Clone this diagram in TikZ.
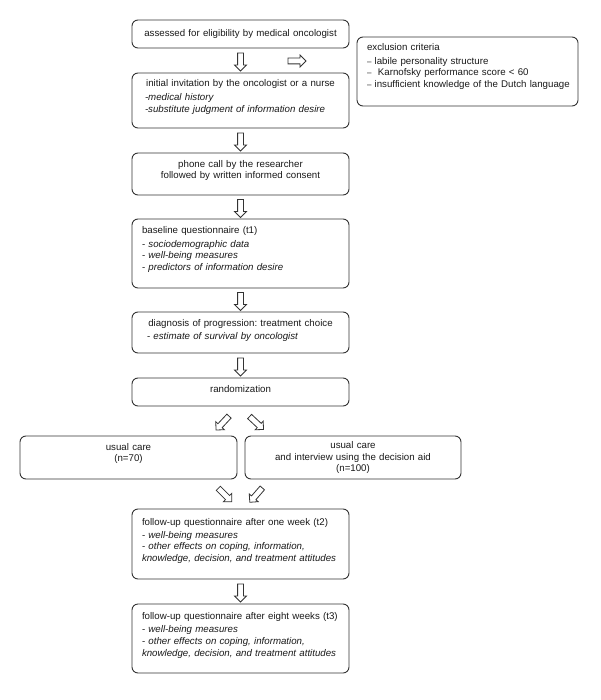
\documentclass[tikz,border=0pt]{standalone}
\usepackage{fontspec}
\setmainfont{Liberation Sans}
\usetikzlibrary{shapes.arrows,calc}
\definecolor{linec}{HTML}{333333}
\definecolor{textc}{HTML}{1A1A1A}
\newcommand\xdp[1]{\rule[-#1pt]{0pt}{#1pt}}
\frenchspacing
\begin{document}
\begin{tikzpicture}[x=1pt,y=-1pt,
  box/.style={draw=linec, line width=0.9pt, rounded corners=6pt, fill=white,
    inner xsep=10pt, inner ysep=0pt, align=left, text=textc,
    font=\fontsize{9.7}{11.8}\selectfont\frenchspacing},
  boxc/.style={box, align=center},
  barrow/.style={single arrow, draw=linec, line width=0.8pt, fill=white,
    inner sep=0pt, inner ysep=2.5pt, single arrow head extend=3pt,
    minimum height=18pt, minimum width=0pt}]
\useasboundingbox (0,0) rectangle (600,700);

% main column
\node[boxc, text width=197pt, minimum height=28pt] (b1) at (240.5,34)
  {assessed for eligibility by medical oncologist};
\node[box, text width=197pt, minimum height=55pt] (b2) at (240.5,100.5)
  {\makebox[\hsize][c]{initial invitation by the oncologist or a nurse}\\[2pt]
   \hspace*{3pt}\textit{-medical history}\\
   \mbox{\hspace*{3pt}\textit{-substitute judgment of information desire}}\xdp{9}};
\node[boxc, text width=197pt, minimum height=42pt] (b3) at (240.5,174)
  {phone call by the researcher\\ followed by written informed consent\xdp{9}};
\node[box, text width=197pt, minimum height=69pt] (b4) at (240.5,253.5)
  {baseline questionnaire (t1)\\[2pt]
   - \textit{sociodemographic data}\\
   - \textit{well-being measures}\\
   - \textit{predictors of information desire}\xdp{10}};
\node[box, text width=197pt, minimum height=41pt] (b5) at (240.5,332.5)
  {\makebox[\hsize][c]{diagnosis of progression: treatment choice}\\[1pt]
   \hspace*{5pt}- \textit{estimate of survival by oncologist}\xdp{6}};
\node[boxc, text width=197pt, minimum height=28pt] (b6) at (240.5,392)
  {randomization\xdp{6}};
\node[boxc, text width=197pt, minimum height=43pt] (bl) at (128.5,457.5)
  {usual care\\ (n=70)\xdp{10}};
\node[boxc, text width=196pt, minimum height=43pt] (br) at (353,457.5)
  {usual care\\ and interview using the decision aid\\ (n=100)};
\node[box, text width=197pt, minimum height=70pt] (b7) at (240.5,544)
  {\mbox{follow-up questionnaire after one week (t2)}\\[1pt]
   - \textit{well-being measures}\\
   - \textit{other effects on coping, information,}\\
   \mbox{\textit{knowledge, decision, and treatment attitudes}}\xdp{8}};
\node[box, text width=197pt, minimum height=69pt] (b8) at (240.5,638.5)
  {\mbox{follow-up questionnaire after eight weeks (t3)}\\[1pt]
   - \textit{well-being measures}\\
   - \textit{other effects on coping, information,}\\
   \mbox{\textit{knowledge, decision, and treatment attitudes}}\xdp{8}};

% exclusion criteria
\node[box, text width=201pt, minimum height=69pt] (ex) at (467.5,71.5)
  {exclusion criteria\\[2pt]
   {\footnotesize–} labile personality structure\\
   {\footnotesize–}\ \ Karnofsky performance score < 60\\
   \mbox{{\footnotesize–} insufficient knowledge of the Dutch language}\xdp{12}};

% block arrows
\node[barrow, rotate=-90] (a1) at ($(b1.south)!0.5!(b2.north)$) {};
\node[barrow] (ax) at (295.5,61) {};
\node[barrow, rotate=-90] (a2) at ($(b2.south)!0.5!(b3.north)$) {};
\node[barrow, rotate=-90] (a3) at ($(b3.south)!0.5!(b4.north)$) {};
\node[barrow, rotate=-90] (a4) at ($(b4.south)!0.5!(b5.north)$) {};
\node[barrow, rotate=-90] (a5) at ($(b5.south)!0.5!(b6.north)$) {};
\node[barrow, rotate=227, minimum height=19pt] (d1) at (223.5,422) {};
\node[barrow, rotate=-43, minimum height=19pt] (d2) at (255.5,422) {};
\node[barrow, rotate=-45, minimum height=19pt] (d3) at (224,494) {};
\node[barrow, rotate=229, minimum height=19pt] (d4) at (257,494) {};
\node[barrow, rotate=-90] (a6) at ($(b7.south)!0.5!(b8.north)$) {};
\end{tikzpicture}
\end{document}
